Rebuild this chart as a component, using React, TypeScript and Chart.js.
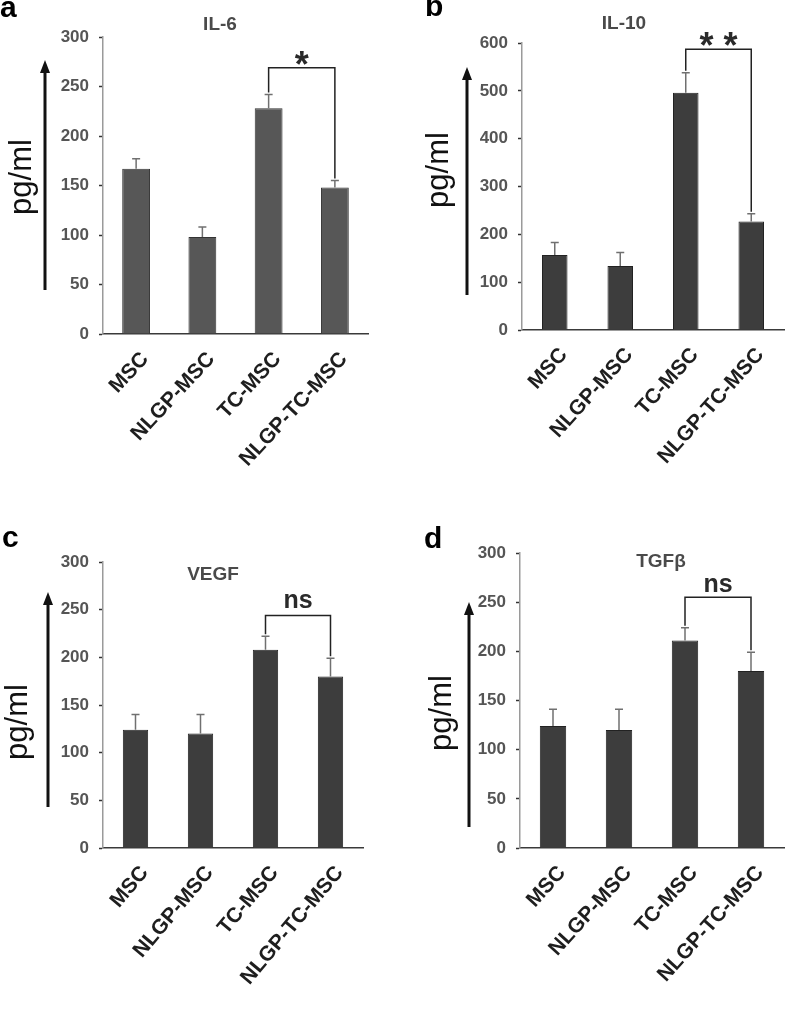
import { useEffect, useRef } from "react"
import { Chart, registerables } from "chart.js"

Chart.register(...registerables)

const FONT = "'Liberation Sans', Arial, sans-serif"

// groups on the x axis
const categories = ["MSC", "NLGP-MSC", "TC-MSC", "NLGP-TC-MSC"]

// mean values (pg/ml) and the top of each error bar
const il6Means = [167, 98, 228, 148]
const il6Upper = [177, 108, 242, 155]
const il10Means = [157, 134, 496, 227]
const il10Upper = [183, 162, 538, 243]
const vegfMeans = [124, 120, 208, 180]
const vegfUpper = [140, 140, 222, 199]
const tgfMeans = [124, 120, 211, 180]
const tgfUpper = [141, 141, 224, 199]

// y axis ranges
const il6Axis = [0, 300, 50]
const il10Axis = [0, 600, 100]
const vegfAxis = [0, 300, 50]
const tgfAxis = [0, 300, 50]

// significance between TC-MSC and NLGP-TC-MSC
const sigLabels = ["*", "* *", "ns", "ns"]
const sigLevels = [269, 587, 244, 255]

interface Panel {
  letter: string
  title: string
  means: number[]
  upper: number[]
  axis: number[]
  sig: string
  sigLevel: number
  box: { left: number; top: number; width: number; height: number }
  area: { l: number; t: number; r: number; b: number }
  barPct: number
  fill: string
  edge: string
  letterPos: [number, number]
  titlePos: [number, number]
  labelPos: [number, number]
  arrow: [number, number, number]
  sigGap: number
  rot: number
}

const panels: Panel[] = [
  {
    letter: "a", title: "IL-6", means: il6Means, upper: il6Upper, axis: il6Axis,
    sig: sigLabels[0], sigLevel: sigLevels[0],
    box: { left: 0, top: 0, width: 394, height: 500 },
    area: { l: 103, t: 37, r: 368, b: 334 },
    barPct: 0.42, fill: "#575757", edge: "#333333",
    letterPos: [0, 17], titlePos: [220, 25], labelPos: [22, 177], arrow: [45, 290, 60],
    sigGap: 9, rot: 47,
  },
  {
    letter: "b", title: "IL-10", means: il10Means, upper: il10Upper, axis: il10Axis,
    sig: sigLabels[1], sigLevel: sigLevels[1],
    box: { left: 394, top: 0, width: 393, height: 500 },
    area: { l: 128, t: 43, r: 390, b: 330 },
    barPct: 0.39, fill: "#3d3d3d", edge: "#222222",
    letterPos: [31, 16], titlePos: [230, 24], labelPos: [45, 170], arrow: [73, 295, 67],
    sigGap: 9, rot: 48,
  },
  {
    letter: "c", title: "VEGF", means: vegfMeans, upper: vegfUpper, axis: vegfAxis,
    sig: sigLabels[2], sigLevel: sigLevels[2],
    box: { left: 0, top: 500, width: 394, height: 509 },
    area: { l: 103, t: 62, r: 363, b: 348 },
    barPct: 0.39, fill: "#3d3d3d", edge: "#222222",
    letterPos: [2, 47], titlePos: [213, 75], labelPos: [18, 222], arrow: [48, 307, 92],
    sigGap: 7, rot: 50,
  },
  {
    letter: "d", title: "TGFβ", means: tgfMeans, upper: tgfUpper, axis: tgfAxis,
    sig: sigLabels[3], sigLevel: sigLevels[3],
    box: { left: 394, top: 500, width: 393, height: 509 },
    area: { l: 126, t: 53, r: 390, b: 348 },
    barPct: 0.4, fill: "#3d3d3d", edge: "#222222",
    letterPos: [30, 48], titlePos: [267, 62], labelPos: [48, 213], arrow: [75, 327, 102],
    sigGap: 5, rot: 48,
  },
]

function makeDecor(p: Panel) {
  return {
    id: "decor" + p.letter,
    afterDraw(chart: Chart) {
      const ctx = chart.ctx
      const y = chart.scales.y
      const bars = chart.getDatasetMeta(0).data as any[]

      ctx.save()

      // error bars (upper only)
      ctx.strokeStyle = "#707070"
      ctx.lineWidth = 1.5
      bars.forEach((bar, i) => {
        const top = y.getPixelForValue(p.upper[i])
        ctx.beginPath()
        ctx.moveTo(bar.x, bar.y)
        ctx.lineTo(bar.x, top)
        ctx.moveTo(bar.x - 4, top)
        ctx.lineTo(bar.x + 4, top)
        ctx.stroke()
      })

      // significance bracket
      const x1 = bars[2].x
      const x2 = bars[3].x
      const yl = y.getPixelForValue(p.sigLevel)
      ctx.strokeStyle = "#222"
      ctx.lineWidth = 1.5
      ctx.beginPath()
      ctx.moveTo(x1, y.getPixelForValue(p.upper[2]) - 2)
      ctx.lineTo(x1, yl)
      ctx.lineTo(x2, yl)
      ctx.lineTo(x2, y.getPixelForValue(p.upper[3]) - 2)
      ctx.stroke()

      ctx.fillStyle = "#2a2a2a"
      ctx.textAlign = "center"
      ctx.textBaseline = "alphabetic"
      if (p.sig === "ns") {
        ctx.font = `bold 25px ${FONT}`
        ctx.fillText(p.sig, (x1 + x2) / 2, yl - p.sigGap)
      } else {
        ctx.font = `bold 36px ${FONT}`
        ctx.fillText(p.sig, (x1 + x2) / 2, yl + p.sigGap)
      }

      // panel letter
      ctx.fillStyle = "#000"
      ctx.textAlign = "left"
      ctx.font = `bold 30px ${FONT}`
      ctx.fillText(p.letter, p.letterPos[0], p.letterPos[1])

      // title
      ctx.fillStyle = "#4a4a4a"
      ctx.textAlign = "center"
      ctx.textBaseline = "middle"
      ctx.font = `bold 19px ${FONT}`
      ctx.fillText(p.title, p.titlePos[0], p.titlePos[1])

      // y axis label
      ctx.save()
      ctx.translate(p.labelPos[0], p.labelPos[1])
      ctx.rotate(-Math.PI / 2)
      ctx.fillStyle = "#111"
      ctx.font = `31px ${FONT}`
      ctx.fillText("pg/ml", 0, 0)
      ctx.restore()

      // upward arrow
      const [ax, ay0, ay1] = p.arrow
      ctx.strokeStyle = "#111"
      ctx.fillStyle = "#111"
      ctx.lineWidth = 3
      ctx.beginPath()
      ctx.moveTo(ax, ay0)
      ctx.lineTo(ax, ay1 + 10)
      ctx.stroke()
      ctx.beginPath()
      ctx.moveTo(ax, ay1)
      ctx.lineTo(ax - 5, ay1 + 13)
      ctx.lineTo(ax + 5, ay1 + 13)
      ctx.closePath()
      ctx.fill()

      ctx.restore()
    },
  }
}

function BarPanel({ p }: { p: Panel }) {
  const ref = useRef<HTMLCanvasElement>(null)

  useEffect(() => {
    if (!ref.current) return
    const { width, height } = p.box
    const chart = new Chart(ref.current, {
      type: "bar",
      data: {
        labels: categories,
        datasets: [
          {
            data: p.means,
            backgroundColor: p.fill,
            borderColor: p.edge,
            borderWidth: 1,
            barPercentage: p.barPct,
            categoryPercentage: 1,
          },
        ],
      },
      options: {
        animation: false,
        responsive: false,
        layout: { padding: { left: 0, top: p.area.t, right: width - p.area.r, bottom: 0 } },
        plugins: { legend: { display: false }, tooltip: { enabled: false } },
        scales: {
          x: {
            afterFit: (s: any) => { s.height = height - p.area.b },
            grid: { display: false },
            border: { display: true, color: "#3a3a3a", width: 1.5 },
            ticks: {
              autoSkip: false,
              minRotation: p.rot,
              maxRotation: p.rot,
              padding: 5,
              labelOffset: 9,
              color: "#1e1e1e",
              font: { family: FONT, size: 21, weight: "bold" },
            },
          },
          y: {
            min: p.axis[0],
            max: p.axis[1],
            afterFit: (s: any) => { s.width = p.area.l },
            grid: { drawOnChartArea: false, drawTicks: true, tickLength: 4, tickColor: "#333", tickWidth: 1.5 },
            border: { display: true, color: "#9a9a9a", width: 1.5 },
            ticks: {
              stepSize: p.axis[2],
              padding: 10,
              color: "#555",
              font: { family: FONT, size: 17, weight: "bold" },
            },
          },
        },
      },
      plugins: [makeDecor(p)],
    })
    return () => chart.destroy()
  }, [p])

  return (
    <canvas
      ref={ref}
      width={p.box.width}
      height={p.box.height}
      style={{ position: "absolute", left: p.box.left, top: p.box.top, width: p.box.width, height: p.box.height }}
    />
  )
}

export default function App() {
  return (
    <div style={{ position: "absolute", left: 0, top: 0, width: 787, height: 1009, background: "#fff" }}>
      {panels.map((p) => (
        <BarPanel key={p.letter} p={p} />
      ))}
    </div>
  )
}
